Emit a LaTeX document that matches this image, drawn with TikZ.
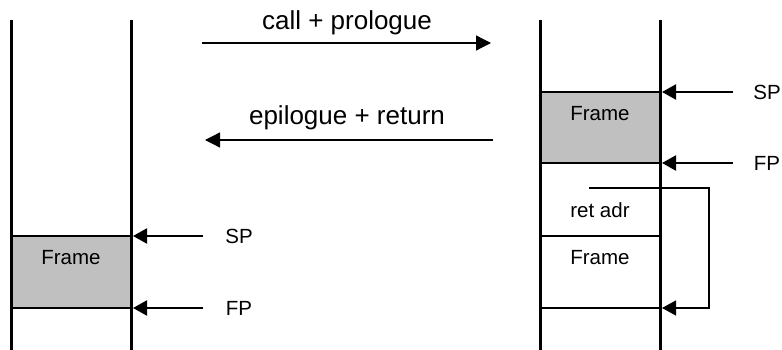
\documentclass[tikz,border=0pt]{standalone}
\usepackage{fontspec}
\setmainfont{Liberation Sans}
\usetikzlibrary{arrows.meta,positioning}
\definecolor{framegray}{HTML}{C0C0C0}
\tikzstyle{wall}  =[line width=3pt]
\tikzstyle{slot}  =[line width=2pt]
\tikzstyle{ptr}   =[-{Triangle[length=14pt,width=15pt]}, line width=2pt]
\tikzstyle{flow}  =[-{Triangle[length=15pt,width=15pt]}, line width=1.3pt]
\tikzstyle{link}  =[line width=1.3pt]
\tikzstyle{big}   =[font=\fontsize{26}{30}\selectfont]

\begin{document}
\begin{tikzpicture}[x=1pt, y=-1pt, every node/.style = {inner sep=0pt,
            outer sep=0pt, font=\fontsize{20.5}{24}\selectfont}]
    \useasboundingbox (0,0) rectangle (782,350);
    % caller stack
    \fill[framegray] (11,236) rectangle (131,308);
    \foreach \x in {11,131} { \draw[wall] (\x,20) -- (\x,350); }
    \foreach \y in {236,308} { \draw[slot] (11,\y) -- (131,\y); }
    \node (lframe) at (71,258) {Frame};
    \coordinate (lsp) at (133,236); \coordinate (lspt) at (203,236);
    \coordinate (lfp) at (133,308); \coordinate (lfpt) at (203,308);
    \node (lsplab) at (239,236) {SP};
    \node (lfplab) at (239,308) {FP};
    \draw[ptr] (lspt) -- (lsp);
    \draw[ptr] (lfpt) -- (lfp);
    % transitions
    \coordinate (ca) at (202,43); \coordinate (cb) at (491,43);
    \coordinate (ea) at (493,140); \coordinate (eb) at (205,140);
    \node[big] (call) at (347,23) {call + prologue};
    \node[big] (ret) at (347,118) {epilogue + return};
    \draw[flow] (ca) -- (cb);
    \draw[flow] (ea) -- (eb);
    % callee stack
    \fill[framegray] (540,92) rectangle (660,163);
    \foreach \x in {540,660} { \draw[wall] (\x,20) -- (\x,350); }
    \foreach \y in {92,163,236,308} { \draw[slot] (540,\y) -- (660,\y); }
    \node (rframe) at (600,114) {Frame};
    \node (radr) at (600,210) {ret adr};
    \node (oframe) at (600,258) {Frame};
    \coordinate (rsp) at (662,92); \coordinate (rspt) at (733,92);
    \coordinate (rfp) at (662,163); \coordinate (rfpt) at (733,163);
    \node (rsplab) at (767,92) {SP};
    \node (rfplab) at (767,163) {FP};
    \draw[ptr] (rspt) -- (rsp);
    \draw[ptr] (rfpt) -- (rfp);
    \coordinate (ra) at (589,188); \coordinate (rb) at (662,308);
    \draw[link, -{Triangle[length=14pt,width=15pt]}]
        (ra) -- (709,188) |- (rb);
\end{tikzpicture}
\end{document}
